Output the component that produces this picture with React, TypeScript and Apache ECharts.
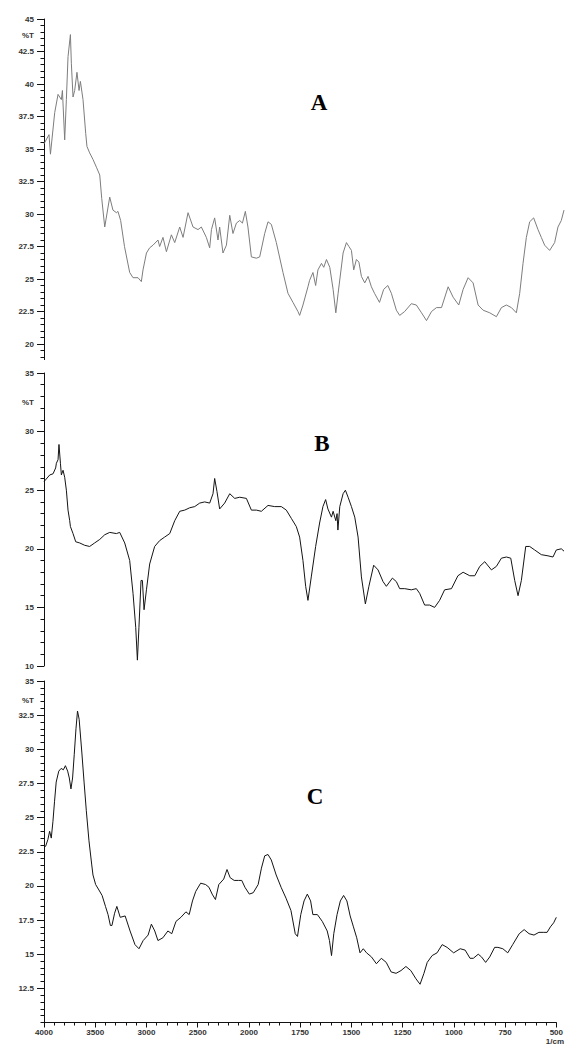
import React, { useEffect, useRef } from "react";
import * as echarts from "echarts";

// ---------- axis labels ----------
const X_TICK_LABELS = ["4000", "3500", "3000", "2500", "2000", "1750", "1500", "1250", "1000", "750", "500"];
const A_Y_LABELS = [20, 22.5, 25, 27.5, 30, 32.5, 35, 37.5, 40, 42.5, 45];
const B_Y_LABELS = [10, 15, 20, 25, 30, 35];
const C_Y_LABELS = [12.5, 15, 17.5, 20, 22.5, 25, 27.5, 30, 32.5, 35];
const PANEL_NAMES = ["A", "B", "C"];

// ---------- spectrum A (wavenumber 1/cm, %T) ----------
const A_WN = [4000, 3993, 3952, 3938, 3897, 3865, 3833, 3823, 3801, 3785, 3769, 3746, 3737, 3721, 3705, 3683, 3663, 3650, 3625, 3599, 3587, 3561, 3529, 3496, 3464, 3445, 3416, 3368, 3337, 3304, 3289, 3263, 3226, 3176, 3144, 3096, 3064, 3048, 3015, 2984, 2952, 2904, 2888, 2856, 2823, 2775, 2743, 2695, 2663, 2615, 2567, 2519, 2487, 2439, 2407, 2390, 2359, 2327, 2311, 2279, 2246, 2214, 2183, 2150, 2118, 2092, 2064, 2039, 2006, 1979, 1963, 1939, 1923, 1907, 1883, 1851, 1827, 1803, 1779, 1771, 1755, 1731, 1723, 1707, 1694, 1683, 1666, 1655, 1642, 1626, 1610, 1597, 1586, 1562, 1546, 1534, 1522, 1511, 1498, 1486, 1474, 1458, 1442, 1426, 1411, 1387, 1367, 1347, 1330, 1306, 1290, 1266, 1234, 1210, 1185, 1161, 1137, 1113, 1089, 1057, 1033, 1006, 985, 961, 937, 913, 889, 857, 825, 801, 777, 753, 729, 713, 697, 681, 665, 646, 625, 609, 593, 569, 545, 529, 513, 500];
const A_T = [35.4, 35.5, 36.1, 34.6, 37.8, 39.2, 38.8, 39.5, 35.7, 38.8, 42.1, 43.8, 41.6, 39.0, 39.5, 40.9, 39.5, 40.2, 38.8, 36.2, 35.2, 34.7, 34.2, 33.6, 33.0, 31.2, 29.0, 31.3, 30.3, 30.1, 30.2, 29.5, 27.5, 25.5, 25.1, 25.1, 24.8, 25.7, 27.0, 27.4, 27.6, 28.0, 27.5, 28.2, 27.1, 28.4, 27.8, 29.0, 28.2, 30.1, 29.0, 28.8, 29.0, 28.2, 27.4, 28.8, 29.7, 28.0, 29.0, 27.0, 27.6, 29.9, 28.5, 29.3, 29.5, 29.3, 30.2, 29.0, 26.7, 26.6, 26.7, 28.5, 29.4, 29.2, 27.8, 25.5, 23.9, 23.2, 22.5, 22.2, 23.0, 24.4, 24.9, 25.5, 24.5, 25.7, 26.2, 25.9, 26.5, 25.9, 24.2, 22.4, 23.9, 27.0, 27.8, 27.5, 27.2, 25.7, 26.5, 26.3, 25.2, 24.7, 25.2, 24.4, 23.9, 23.2, 24.2, 24.5, 23.9, 22.6, 22.2, 22.5, 23.1, 23.0, 22.4, 21.8, 22.5, 22.8, 22.8, 24.4, 23.6, 23.0, 24.2, 25.1, 24.7, 23.0, 22.6, 22.4, 22.1, 22.8, 23.0, 22.8, 22.4, 23.9, 26.2, 28.2, 29.4, 29.7, 28.8, 28.2, 27.6, 27.2, 27.8, 29.0, 29.5, 30.3];

// ---------- spectrum B ----------
const B_WN = [4000, 3993, 3945, 3913, 3888, 3881, 3865, 3856, 3842, 3833, 3817, 3801, 3785, 3769, 3753, 3746, 3721, 3695, 3657, 3609, 3561, 3513, 3464, 3416, 3368, 3304, 3272, 3224, 3176, 3144, 3118, 3102, 3087, 3067, 3054, 3038, 3015, 2984, 2936, 2888, 2840, 2791, 2743, 2695, 2647, 2599, 2551, 2503, 2455, 2407, 2375, 2359, 2337, 2311, 2263, 2214, 2166, 2118, 2054, 2006, 1979, 1955, 1923, 1891, 1859, 1835, 1811, 1787, 1771, 1755, 1742, 1731, 1715, 1694, 1675, 1659, 1646, 1635, 1618, 1610, 1597, 1591, 1587, 1578, 1562, 1551, 1538, 1522, 1506, 1490, 1474, 1455, 1438, 1415, 1394, 1370, 1354, 1325, 1306, 1290, 1266, 1234, 1210, 1194, 1170, 1146, 1122, 1098, 1074, 1041, 1010, 985, 953, 929, 905, 881, 849, 825, 801, 777, 756, 737, 721, 705, 684, 665, 641, 609, 577, 553, 537, 513, 500];
const B_T = [25.7, 25.8, 26.3, 26.4, 26.9, 27.3, 27.6, 28.9, 27.3, 26.3, 26.7, 26.1, 25.0, 23.3, 22.4, 21.9, 21.3, 20.6, 20.5, 20.3, 20.2, 20.5, 20.8, 21.2, 21.4, 21.3, 21.4, 20.5, 19.0, 16.2, 13.3, 10.5, 13.3, 17.3, 17.3, 14.8, 16.5, 18.7, 20.2, 20.7, 21.0, 21.3, 22.4, 23.2, 23.3, 23.5, 23.6, 23.9, 24.0, 23.9, 24.7, 26.0, 24.9, 23.4, 23.9, 24.7, 24.3, 24.4, 24.3, 23.3, 23.3, 23.2, 23.7, 23.6, 23.6, 23.3, 22.6, 21.9, 21.0, 19.0, 16.8, 15.6, 17.6, 20.2, 22.2, 23.6, 24.2, 23.4, 22.7, 23.2, 22.4, 23.0, 21.6, 23.6, 24.7, 25.0, 24.4, 23.6, 22.7, 21.0, 17.6, 15.3, 16.8, 18.6, 18.2, 17.2, 16.8, 17.5, 17.2, 16.6, 16.6, 16.5, 16.6, 16.2, 15.2, 15.2, 15.0, 15.6, 16.5, 16.6, 17.7, 18.0, 17.7, 17.7, 18.5, 18.9, 18.2, 18.5, 19.2, 19.3, 19.2, 17.3, 16.0, 17.3, 20.2, 20.2, 19.9, 19.5, 19.4, 19.3, 19.9, 20.0, 19.8];

// ---------- spectrum C ----------
const C_WN = [4000, 3984, 3962, 3945, 3929, 3913, 3897, 3881, 3856, 3833, 3811, 3791, 3769, 3753, 3737, 3721, 3705, 3688, 3673, 3657, 3631, 3609, 3587, 3561, 3535, 3522, 3496, 3464, 3433, 3400, 3375, 3352, 3337, 3311, 3289, 3256, 3208, 3160, 3112, 3073, 3032, 2984, 2952, 2919, 2888, 2840, 2791, 2753, 2712, 2664, 2615, 2583, 2551, 2519, 2471, 2423, 2390, 2359, 2327, 2294, 2246, 2214, 2183, 2144, 2102, 2070, 2039, 1998, 1979, 1955, 1939, 1923, 1907, 1891, 1867, 1843, 1819, 1795, 1774, 1763, 1747, 1731, 1715, 1699, 1688, 1666, 1642, 1618, 1607, 1597, 1586, 1570, 1554, 1538, 1522, 1506, 1490, 1474, 1458, 1442, 1426, 1402, 1378, 1354, 1330, 1306, 1282, 1258, 1234, 1210, 1185, 1165, 1146, 1130, 1106, 1082, 1057, 1033, 1001, 969, 945, 921, 905, 881, 865, 845, 825, 801, 785, 761, 737, 713, 681, 657, 633, 609, 585, 561, 545, 529, 513, 500];
const C_T = [22.8, 22.9, 23.4, 24.0, 23.5, 24.7, 26.2, 27.6, 28.4, 28.6, 28.5, 28.8, 28.4, 27.9, 27.1, 27.9, 29.6, 31.5, 32.8, 32.2, 29.8, 27.6, 25.5, 23.3, 21.6, 20.8, 20.1, 19.7, 19.3, 18.5, 17.9, 17.1, 17.1, 18.0, 18.5, 17.7, 17.8, 16.7, 15.7, 15.4, 16.0, 16.4, 17.2, 16.7, 16.0, 16.2, 16.7, 16.5, 17.4, 17.7, 18.1, 17.9, 18.9, 19.6, 20.2, 20.1, 19.9, 19.4, 19.0, 20.1, 20.5, 21.2, 20.6, 20.4, 20.4, 20.4, 19.9, 19.4, 19.5, 20.1, 21.3, 22.2, 22.3, 21.9, 20.8, 19.9, 19.1, 18.2, 16.5, 16.3, 17.9, 18.9, 19.4, 18.9, 17.9, 17.9, 17.4, 16.7, 16.0, 14.9, 16.5, 17.9, 18.9, 19.3, 18.9, 17.8, 17.0, 16.2, 15.1, 15.4, 15.1, 14.8, 14.3, 14.7, 14.4, 13.7, 13.6, 13.8, 14.1, 13.8, 13.2, 12.8, 13.6, 14.4, 14.9, 15.1, 15.7, 15.5, 15.1, 15.4, 15.3, 14.7, 14.7, 15.0, 14.8, 14.4, 14.8, 15.5, 15.5, 15.4, 15.1, 15.7, 16.5, 16.8, 16.5, 16.4, 16.6, 16.6, 16.6, 17.0, 17.3, 17.7];

// The instrument plot uses a split abscissa: 500 1/cm per division above 2000, 250 below.
const toU = (w: number) => (w >= 2000 ? (4000 - w) / 500 : 4 + (2000 - w) / 250);

const FONT = "Liberation Sans";

function steps(lo: number, hi: number, step: number) {
  const out: number[] = [];
  for (let v = lo; v <= hi + 1e-9; v += step) out.push(Math.round(v * 100) / 100);
  return out;
}

function yAxesFor(grid: number, min: number, max: number, labels: number[], minorStep: number, tPos: number) {
  return [
    {
      type: "value",
      gridIndex: grid,
      position: "left",
      min,
      max,
      axisLine: { show: true, lineStyle: { color: "#111", width: 1 } },
      axisTick: { show: true, length: 7, customValues: labels, lineStyle: { color: "#111", width: 1 } },
      axisLabel: {
        show: true,
        customValues: [...labels, tPos],
        formatter: (v: number) => (Math.abs(v - tPos) < 1e-6 ? "%T" : String(v)),
        fontSize: 8,
        fontWeight: "bold",
        fontFamily: FONT,
        color: "#333",
        margin: 10,
      },
      splitLine: { show: false },
    },
    {
      type: "value",
      gridIndex: grid,
      position: "left",
      min,
      max,
      axisLine: { show: false },
      axisTick: { show: true, length: 3.5, customValues: steps(Math.ceil(min / minorStep) * minorStep, max, minorStep), lineStyle: { color: "#111", width: 1 } },
      axisLabel: { show: false },
      splitLine: { show: false },
    },
  ];
}

export default function App() {
  const ref = useRef<HTMLDivElement>(null);
  useEffect(() => {
    document.body.style.margin = "0";
    if (!ref.current) return;
    const chart = echarts.init(ref.current, undefined, { renderer: "svg" });

    const grids = [
      { left: 44, right: 2, top: 19, height: 340.6 },
      { left: 44, right: 2, top: 373, height: 293 },
      { left: 44, right: 2, top: 681, height: 341.5 },
    ];

    const xAxes = grids.map((_, i) => ({
      type: "value",
      gridIndex: i,
      min: 0,
      max: 10,
      interval: 1,
      show: i === 2,
      axisLine: { show: true, onZero: false, lineStyle: { color: "#111", width: 1 } },
      axisTick: { show: true, length: 5, lineStyle: { color: "#111", width: 1 } },
      minorTick: { show: true, splitNumber: 5, length: 3, lineStyle: { color: "#111", width: 1 } },
      axisLabel: {
        formatter: (v: number) => X_TICK_LABELS[Math.round(v)] ?? "",
        fontSize: 8,
        fontWeight: "bold",
        fontFamily: FONT,
        color: "#333",
        margin: 6,
        showMaxLabel: true,
        showMinLabel: true,
      },
      splitLine: { show: false },
      minorSplitLine: { show: false },
    }));

    const yAxes = [
      ...yAxesFor(0, 18.8, 45, A_Y_LABELS, 0.5, 43.75),
      ...yAxesFor(1, 10, 35, B_Y_LABELS, 1, 32.5),
      ...yAxesFor(2, 10, 35, C_Y_LABELS, 0.5, 33.6),
    ];

    const mk = (wn: number[], t: number[]) => wn.map((w, i) => [toU(w), t[i]]);

    const series = [
      { data: mk(A_WN, A_T), color: "#7d7d7d" },
      { data: mk(B_WN, B_T), color: "#141414" },
      { data: mk(C_WN, C_T), color: "#141414" },
    ].map((s, i) => ({
      type: "line",
      xAxisIndex: i,
      yAxisIndex: i * 2,
      data: s.data,
      showSymbol: false,
      silent: true,
      lineStyle: { color: s.color, width: 1 },
    }));

    const letterPos = [
      [319, 102],
      [322, 443],
      [315, 796],
    ];

    chart.setOption({
      animation: false,
      backgroundColor: "#ffffff",
      grid: grids,
      xAxis: xAxes,
      yAxis: yAxes,
      series,
      graphic: [
        ...PANEL_NAMES.map((name, i) => ({
          type: "text",
          x: letterPos[i][0],
          y: letterPos[i][1],
          style: {
            text: name,
            fontSize: 23,
            fontWeight: "bold",
            fontFamily: "Liberation Serif",
            fill: "#000",
            align: "center",
            verticalAlign: "middle",
          },
        })),
        {
          type: "text",
          x: 564,
          y: 1041,
          style: {
            text: "1/cm",
            fontSize: 8,
            fontWeight: "bold",
            fontFamily: FONT,
            fill: "#333",
            align: "right",
            verticalAlign: "middle",
          },
        },
      ],
    });

    return () => chart.dispose();
  }, []);

  return <div ref={ref} style={{ width: 566, height: 1045 }} />;
}
